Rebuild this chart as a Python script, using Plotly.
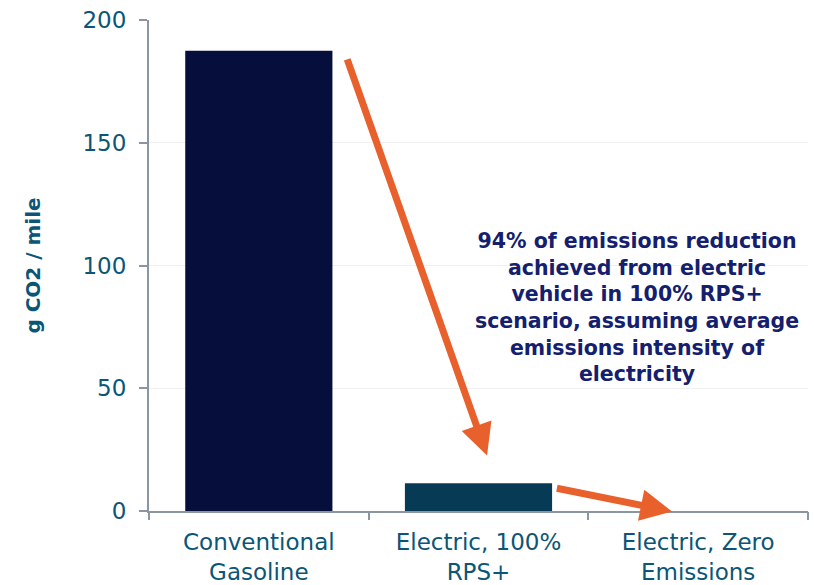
import plotly.graph_objects as go

categories = ["Conventional<br>Gasoline", "Electric, 100%<br>RPS+", "Electric, Zero<br>Emissions"]
values = [187.5, 11.3, 0]
bar_colors = ["#060f3c", "#063a55", "#063a55"]
y_ticks = [0, 50, 100, 150, 200]
note_lines = ["94% of emissions reduction", "achieved from electric", "vehicle in 100% RPS+",
              "scenario, assuming average", "emissions intensity of", "electricity"]
# arrows: (tail_x, tail_y, head_x, head_y) in category index / data units
arrows = [(0.40, 184.6, 1.039, 22.6), (1.35, 9.4, 1.881, -0.2)]

FONT = "DejaVu Sans"
fig = go.Figure()
fig.add_trace(go.Bar(x=list(range(len(categories))), y=values, marker_color=bar_colors,
                     marker_line_width=0, width=0.67, showlegend=False))
# invisible trace to carry category-boundary ticks
fig.add_trace(go.Scatter(x=[-0.5], y=[0], xaxis="x2", mode="markers", marker=dict(opacity=0),
                         showlegend=False, hoverinfo="skip"))

for tx, ty, hx, hy in arrows:
    fig.add_annotation(x=hx, y=hy, ax=tx, ay=ty, xref="x", yref="y", axref="x", ayref="y",
                       showarrow=True, arrowhead=2, arrowsize=0.9, arrowwidth=7,
                       arrowcolor="#e8602c", text="")

fig.add_annotation(x=1.72, y=115.5, xref="x", yref="y",
                   text="<br>".join("<b>%s</b>" % s for s in note_lines), showarrow=False,
                   font=dict(family=FONT, size=20.5, color="#14206e"),
                   align="center", yanchor="top")

fig.update_layout(
    width=814, height=585, margin=dict(l=149, r=6, t=20, b=74),
    plot_bgcolor="white", paper_bgcolor="white",
    font=dict(family=FONT, color="#0b5576"),
    xaxis=dict(tickmode="array", tickvals=list(range(len(categories))), ticktext=categories,
               range=[-0.5, 2.5], showline=True, linecolor="#8c96a0", linewidth=2,
               ticks="", ticklabelstandoff=9, tickfont=dict(size=23, color="#0b5576"),
               showgrid=False, zeroline=False, automargin=False),
    xaxis2=dict(overlaying="x", range=[-0.5, 2.5], tickvals=[-0.5, 0.5, 1.5, 2.5],
                ticks="outside", ticklen=8, tickcolor="#8c96a0", tickwidth=2, automargin=False,
                showticklabels=False, showgrid=False, zeroline=False, side="bottom", anchor="y"),
    yaxis=dict(range=[0, 200], tickvals=y_ticks, showline=True, linecolor="#8c96a0", linewidth=2,
               ticks="outside", ticklen=8, tickcolor="#8c96a0", tickwidth=2, ticklabelstandoff=8,
               tickfont=dict(size=23, color="#0b5576"), gridcolor="#f0f0f0", zeroline=False,
               automargin=False,
               title=dict(text="<b>g CO2 / mile</b>", font=dict(size=20, color="#0b5576"), standoff=36)),
)
fig.write_html("out.html", config={"displayModeBar": False},
               post_script="document.body.style.margin='0';")
